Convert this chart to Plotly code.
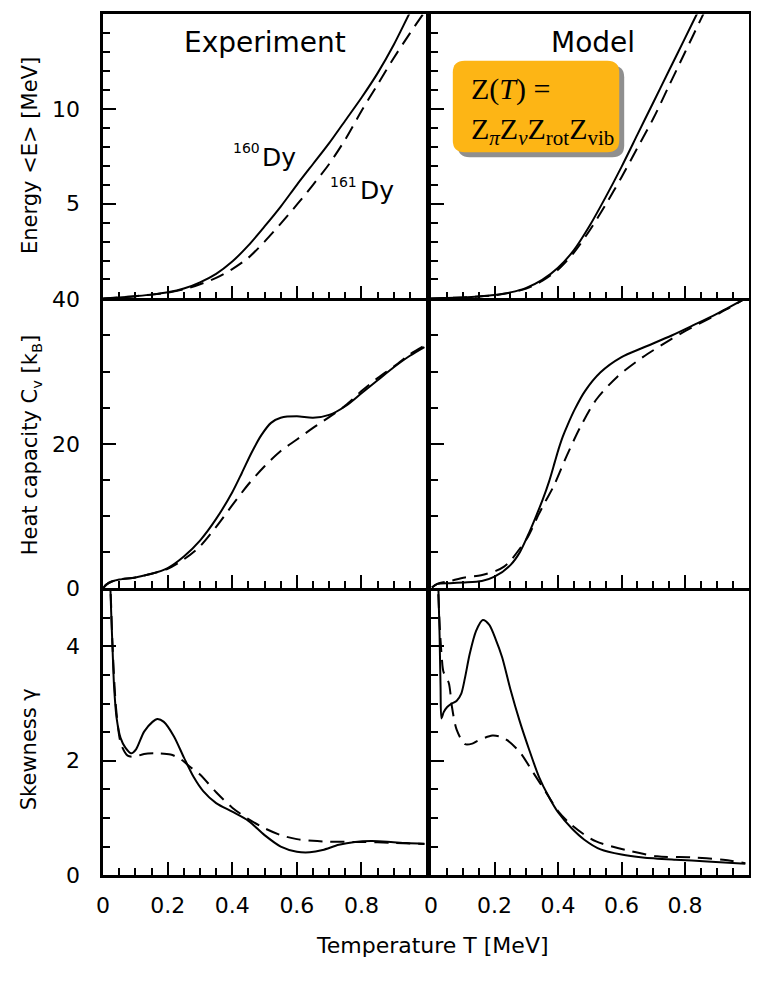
import plotly.graph_objects as go

# The page keeps an 8px body margin; the figure is sized so the page is exactly 767x985.
PAGE_OFF = 8
FW, FH = 751, 969

# ---------------- data ----------------
# Energy <E> [MeV], experiment
T_E_EXP = [0, 0.05, 0.1, 0.15, 0.2, 0.25, 0.3, 0.35, 0.4, 0.45, 0.5, 0.55, 0.6, 0.65, 0.7, 0.75, 0.8, 0.85, 0.9, 0.95, 0.99]
E_EXP_160 = [0.0, 0.05, 0.12, 0.2, 0.32, 0.52, 0.85, 1.3, 1.95, 2.8, 3.8, 4.85, 6.0, 7.1, 8.2, 9.4, 10.6, 11.9, 13.4, 15.1, 16.4]
E_EXP_161 = [0.0, 0.05, 0.12, 0.2, 0.3, 0.48, 0.75, 1.08, 1.55, 2.15, 3.0, 3.95, 4.95, 6.0, 7.1, 8.4, 9.9, 11.3, 12.7, 14.0, 15.0]

# Energy <E> [MeV], model
T_E_MOD = [0, 0.05, 0.1, 0.15, 0.2, 0.25, 0.3, 0.35, 0.4, 0.45, 0.5, 0.55, 0.6, 0.65, 0.7, 0.75, 0.8, 0.85, 0.9]
E_MOD_160 = [0.0, 0.02, 0.05, 0.1, 0.18, 0.32, 0.56, 0.98, 1.62, 2.55, 3.85, 5.35, 6.95, 8.65, 10.35, 12.05, 13.75, 15.45, 17.1]
E_MOD_161 = [0.0, 0.02, 0.05, 0.1, 0.17, 0.3, 0.52, 0.92, 1.52, 2.42, 3.6, 4.95, 6.4, 7.95, 9.5, 11.25, 13.0, 14.75, 16.5]

# Heat capacity Cv [kB], experiment
T_C_EXP_160 = [0, 0.01, 0.025, 0.05, 0.1, 0.15, 0.2, 0.25, 0.3, 0.35, 0.4, 0.43, 0.46, 0.49, 0.52, 0.55, 0.6, 0.65, 0.7, 0.75, 0.8, 0.85, 0.9, 0.95, 0.995]
C_EXP_160 = [0, 0.5, 0.9, 1.2, 1.5, 2.0, 2.8, 4.4, 6.6, 9.6, 13.3, 16.0, 18.8, 21.2, 22.9, 23.6, 23.8, 23.6, 24.0, 25.2, 27.0, 28.8, 30.6, 32.2, 33.4]
T_C_EXP_161 = [0, 0.01, 0.025, 0.05, 0.1, 0.15, 0.2, 0.25, 0.3, 0.35, 0.4, 0.45, 0.5, 0.55, 0.6, 0.65, 0.7, 0.75, 0.8, 0.85, 0.9, 0.95, 0.995]
C_EXP_161 = [0, 0.5, 0.9, 1.2, 1.5, 2.0, 2.7, 4.0, 5.8, 8.5, 11.5, 14.4, 16.9, 19.0, 20.6, 22.2, 23.7, 25.3, 27.3, 29.1, 30.7, 32.4, 33.6]

# Heat capacity Cv [kB], model
T_C_MOD_160 = [0.003, 0.02, 0.06, 0.1, 0.16, 0.2, 0.25, 0.28, 0.305, 0.331, 0.352, 0.372, 0.39, 0.402, 0.415, 0.43, 0.453, 0.485, 0.534, 0.6, 0.667, 0.758, 0.83, 0.9, 0.985]
C_MOD_160 = [0.1, 0.6, 0.7, 0.8, 1.0, 1.6, 3.2, 5.0, 7.3, 10.0, 12.3, 14.8, 17.5, 19.3, 21.0, 22.6, 24.8, 27.3, 29.9, 32.0, 33.3, 35.0, 36.5, 38.0, 40.0]
T_C_MOD_161 = [0.003, 0.02, 0.06, 0.107, 0.158, 0.204, 0.23, 0.25, 0.28, 0.305, 0.34, 0.36, 0.387, 0.427, 0.47, 0.52, 0.587, 0.667, 0.753, 0.8, 0.87, 0.93, 0.985]
C_MOD_161 = [0.1, 0.6, 1.0, 1.5, 1.8, 2.4, 3.0, 3.8, 5.5, 7.1, 10.3, 12.0, 14.2, 18.3, 22.3, 26.1, 29.3, 32.0, 34.4, 35.6, 37.2, 38.6, 40.0]

# Skewness gamma, experiment
T_S_EXP_160 = [0.021, 0.025, 0.029, 0.034, 0.042, 0.054, 0.069, 0.087, 0.102, 0.127, 0.153, 0.168, 0.188, 0.219, 0.25, 0.28, 0.31, 0.35, 0.4, 0.45, 0.5, 0.55, 0.6, 0.64, 0.68, 0.73, 0.78, 0.83, 0.88, 0.94, 0.995]
S_EXP_160 = [5.3, 4.6, 4.0, 3.3, 2.74, 2.4, 2.23, 2.13, 2.2, 2.51, 2.68, 2.73, 2.68, 2.43, 2.06, 1.72, 1.47, 1.26, 1.11, 0.95, 0.70, 0.50, 0.41, 0.40, 0.44, 0.53, 0.58, 0.595, 0.585, 0.56, 0.55]
T_S_EXP_161 = [0.021, 0.025, 0.029, 0.0405, 0.0556, 0.076, 0.097, 0.127, 0.168, 0.209, 0.24, 0.27, 0.3, 0.35, 0.4, 0.45, 0.5, 0.55, 0.6, 0.65, 0.7, 0.8, 0.9, 0.995]
S_EXP_161 = [5.3, 4.7, 4.04, 2.9, 2.29, 2.09, 2.07, 2.12, 2.13, 2.11, 2.03, 1.89, 1.76, 1.45, 1.18, 0.98, 0.82, 0.70, 0.63, 0.60, 0.585, 0.58, 0.565, 0.545]

# Skewness gamma, model
T_S_MOD_160 = [0.022, 0.027, 0.030, 0.033, 0.04, 0.051, 0.065, 0.081, 0.095, 0.107, 0.122, 0.142, 0.163, 0.183, 0.204, 0.224, 0.25, 0.28, 0.31, 0.34, 0.37, 0.40, 0.443, 0.483, 0.534, 0.6, 0.667, 0.77, 0.87, 0.99]
S_MOD_160 = [5.3, 4.2, 3.3, 2.74, 2.85, 2.94, 3.0, 3.05, 3.17, 3.45, 3.87, 4.27, 4.46, 4.38, 4.12, 3.81, 3.25, 2.68, 2.18, 1.72, 1.38, 1.10, 0.82, 0.62, 0.45, 0.36, 0.31, 0.27, 0.24, 0.20]
T_S_MOD_161 = [0.02, 0.028, 0.034, 0.039, 0.056, 0.066, 0.081, 0.107, 0.13, 0.147, 0.193, 0.22, 0.24, 0.28, 0.32, 0.37, 0.40, 0.438, 0.48, 0.52, 0.613, 0.712, 0.82, 0.92, 0.99]
S_MOD_161 = [5.3, 4.3, 3.8, 3.56, 3.36, 2.94, 2.54, 2.29, 2.3, 2.35, 2.44, 2.42, 2.36, 2.15, 1.81, 1.38, 1.12, 0.9, 0.72, 0.59, 0.44, 0.33, 0.31, 0.27, 0.21]

X_TICKS = [0, 0.2, 0.4, 0.6, 0.8]
X_TICKTEXT = ["0", "0.2", "0.4", "0.6", "0.8"]
Y_TICKS = {"E": [5, 10], "C": [0, 20, 40], "S": [0, 2, 4]}
Y_TICKTEXT = {"E": ["5", "10"], "C": ["0", "20", "40"], "S": ["0", "2", "4"]}
Y_RANGE = {"E": [0, 15], "C": [0, 40], "S": [0, 5]}
Y_MINOR = {"E": 1, "C": 5, "S": 0.5}

# ---------------- layout helpers (screen pixel -> paper) ----------------
def fx(p):
    return (p - PAGE_OFF) / FW

def fy(p):
    return 1 - (p - PAGE_OFF) / FH

COLS = {"L": (105, 431), "R": (436, 756.5)}
ROWS = {"E": (10.5, 302), "C": (303, 599.5), "S": (600.5, 894)}
FONT = "DejaVu Sans"

panels = [
    ("E", "L", [(T_E_EXP, E_EXP_160, "solid"), (T_E_EXP, E_EXP_161, "dash")]),
    ("E", "R", [(T_E_MOD, E_MOD_160, "solid"), (T_E_MOD, E_MOD_161, "dash")]),
    ("C", "L", [(T_C_EXP_160, C_EXP_160, "solid"), (T_C_EXP_161, C_EXP_161, "dash")]),
    ("C", "R", [(T_C_MOD_160, C_MOD_160, "solid"), (T_C_MOD_161, C_MOD_161, "dash")]),
    ("S", "L", [(T_S_EXP_160, S_EXP_160, "solid"), (T_S_EXP_161, S_EXP_161, "dash")]),
    ("S", "R", [(T_S_MOD_160, S_MOD_160, "solid"), (T_S_MOD_161, S_MOD_161, "dash")]),
]

fig = go.Figure()
layout = {}
LW = 2.5

for i, (row, col, curves) in enumerate(panels, start=1):
    xa = "x" if i == 1 else f"x{i}"
    ya = "y" if i == 1 else f"y{i}"
    for tx, vy, style in curves:
        fig.add_trace(go.Scatter(
            x=tx, y=vy, xaxis=xa, yaxis=ya, mode="lines",
            line=dict(color="black", width=2, shape="spline", smoothing=0.8,
                      dash="solid" if style == "solid" else "14px,8px"),
            showlegend=False, hoverinfo="skip"))
    c0, c1 = COLS[col]
    r0, r1 = ROWS[row]
    xminor = [round(k * 0.05, 3) for k in range(1, 20) if k % 4 != 0]
    ymin_step = Y_MINOR[row]
    ylo, yhi = Y_RANGE[row]
    n = int(round((yhi - ylo) / ymin_step))
    yminor = [round(ylo + k * ymin_step, 3) for k in range(1, n)
              if round(ylo + k * ymin_step, 3) not in Y_TICKS[row]]
    layout["xaxis" if i == 1 else f"xaxis{i}"] = dict(
        domain=[fx(c0), fx(c1)], range=[0, 1], anchor=ya,
        tickmode="array", tickvals=X_TICKS, ticktext=X_TICKTEXT,
        showticklabels=(row == "S"), ticks="inside", ticklen=13, tickwidth=2,
        tickcolor="black", showline=True, linewidth=LW, linecolor="black",
        mirror=(row == "E"), showgrid=False, zeroline=False,
        ticklabelstandoff=9,
        tickfont=dict(family=FONT, size=22, color="black"),
        minor=dict(tickmode="array", tickvals=xminor, ticks="inside", ticklen=7,
                   tickwidth=2, tickcolor="black", showgrid=False),
    )
    layout["yaxis" if i == 1 else f"yaxis{i}"] = dict(
        domain=[fy(r1), fy(r0)], range=Y_RANGE[row], anchor=xa,
        tickmode="array", tickvals=Y_TICKS[row], ticktext=Y_TICKTEXT[row],
        showticklabels=(col == "L"), ticks="inside", ticklen=13, tickwidth=2,
        tickcolor="black", showline=True, linewidth=LW, linecolor="black",
        mirror=True, showgrid=False, zeroline=False,
        ticklabelstandoff=16,
        tickfont=dict(family=FONT, size=22, color="black"),
        minor=dict(tickmode="array", tickvals=yminor, ticks="inside", ticklen=7,
                   tickwidth=2, tickcolor="black", showgrid=False),
    )

# ---------------- annotations ----------------
ann = []

def text(x, y, s, size, family=FONT, xanchor="center", angle=0):
    ann.append(dict(x=fx(x), y=fy(y), xref="paper", yref="paper", text=s,
                    showarrow=False, xanchor=xanchor, yanchor="middle",
                    textangle=angle,
                    font=dict(family=family, size=size, color="black")))

text(268, 39, "Experiment", 28)
text(600, 39, "Model", 28)
text(250, 148, "160", 14)
text(283, 157, "Dy", 25)
text(348, 183, "161", 14)
text(381, 191, "Dy", 25)
text(31, 155, "Energy &lt;E&gt; [MeV]", 21, angle=-90)
text(32, 452, "Heat capacity C<sub>v</sub> [k<sub>B</sub>]", 21, angle=-90)
text(31, 765, "Skewness γ", 21, angle=-90)
text(437, 966, "Temperature T [MeV]", 22)
text(474, 87, "Z(<i>T</i>) =", 30, family="Liberation Serif", xanchor="left")
text(474, 130, "Z<sub><i>π</i></sub>Z<sub><i>ν</i></sub>Z<sub>rot</sub>Z<sub>vib</sub>", 30,
     family="Liberation Serif", xanchor="left")

# ---------------- shapes ----------------
def rounded(x0, y0, x1, y1, r):
    pts = [
        ("M", (x0 + r, y0)), ("L", (x1 - r, y0)), ("Q", (x1, y0), (x1, y0 + r)),
        ("L", (x1, y1 - r)), ("Q", (x1, y1), (x1 - r, y1)), ("L", (x0 + r, y1)),
        ("Q", (x0, y1), (x0, y1 - r)), ("L", (x0, y0 + r)), ("Q", (x0, y0), (x0 + r, y0)),
    ]
    out = []
    for p in pts:
        cmd = p[0]
        coords = " ".join(f"{fx(a):.5f},{fy(b):.5f}" for a, b in p[1:])
        out.append(f"{cmd} {coords}")
    return " ".join(out) + " Z"

shapes = [
    dict(type="path", xref="paper", yref="paper", path=rounded(463, 63, 631, 157, 12),
         fillcolor="#8f8f8f", line=dict(width=0), layer="above"),
    dict(type="path", xref="paper", yref="paper", path=rounded(458, 58, 626, 152, 12),
         fillcolor="#FDB515", line=dict(width=0), layer="above"),
]

fig.update_layout(
    width=FW, height=FH, margin=dict(l=0, r=0, t=0, b=0),
    paper_bgcolor="white", plot_bgcolor="white",
    annotations=ann, shapes=shapes, **layout,
)

fig.write_html("out.html")
